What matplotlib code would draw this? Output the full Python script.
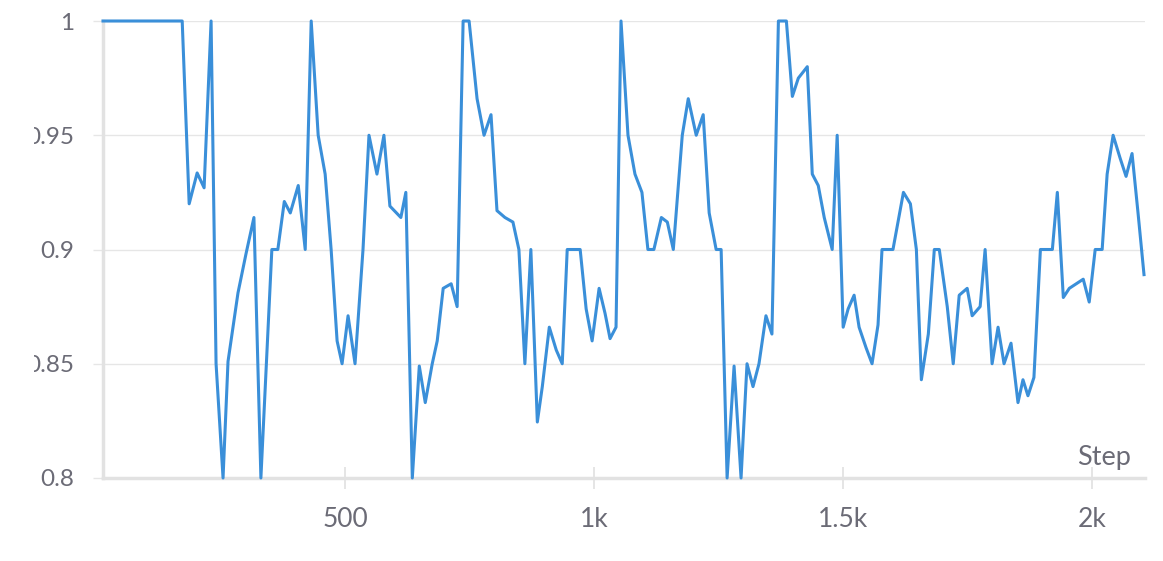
import matplotlib.pyplot as plt
from matplotlib.transforms import Bbox

steps = [14, 173, 187, 203, 217, 231, 241, 255, 265, 285, 301, 317, 331, 353, 365,
         378, 390, 406, 420, 432, 446, 460, 472, 484, 494, 506, 520, 536, 548, 564,
         578, 590, 612, 622, 635, 649, 661, 675, 685, 697, 713, 725, 737, 749, 765,
         779, 793, 805, 821, 837, 849, 861, 873, 886, 896, 910, 924, 936, 946, 958,
         972, 984, 996, 1010, 1022, 1032, 1044, 1054, 1068, 1082, 1096, 1108, 1120,
         1135, 1147, 1159, 1177, 1189, 1205, 1219, 1231, 1245, 1255, 1267, 1281,
         1295, 1307, 1319, 1331, 1345, 1357, 1370, 1386, 1398, 1410, 1428, 1438,
         1450, 1462, 1478, 1488, 1500, 1510, 1522, 1532, 1546, 1558, 1570, 1578,
         1590, 1600, 1621, 1635, 1647, 1657, 1671, 1683, 1693, 1709, 1721, 1733,
         1749, 1759, 1775, 1785, 1799, 1811, 1823, 1837, 1851, 1861, 1871, 1883,
         1896, 1908, 1920, 1930, 1942, 1954, 1968, 1982, 1994, 2006, 2020, 2030,
         2042, 2056, 2068, 2080, 2092, 2104]
acc = [1.0, 1.0, 0.920, 0.9335, 0.927, 1.0, 0.850, 0.8, 0.851, 0.881, 0.898, 0.914,
       0.8, 0.9, 0.9, 0.921, 0.916, 0.928, 0.9, 1.0, 0.95, 0.933, 0.9, 0.860, 0.850,
       0.871, 0.85, 0.9, 0.95, 0.933, 0.95, 0.919, 0.914, 0.925, 0.8, 0.849, 0.833,
       0.85, 0.86, 0.883, 0.885, 0.875, 1.0, 1.0, 0.966, 0.95, 0.959, 0.917, 0.914,
       0.912, 0.9, 0.85, 0.9, 0.8245, 0.84, 0.866, 0.856, 0.85, 0.9, 0.9, 0.9,
       0.874, 0.86, 0.883, 0.872, 0.861, 0.866, 1.0, 0.95, 0.933, 0.925, 0.9, 0.9,
       0.914, 0.912, 0.9, 0.95, 0.966, 0.95, 0.959, 0.916, 0.9, 0.9, 0.8, 0.849,
       0.8, 0.85, 0.84, 0.85, 0.871, 0.863, 1.0, 1.0, 0.967, 0.975, 0.980, 0.933,
       0.928, 0.914, 0.9, 0.95, 0.866, 0.874, 0.880, 0.866, 0.857, 0.85, 0.867,
       0.9, 0.9, 0.9, 0.925, 0.92, 0.9, 0.843, 0.863, 0.9, 0.9, 0.875, 0.85, 0.880,
       0.883, 0.871, 0.875, 0.9, 0.85, 0.866, 0.85, 0.859, 0.833, 0.843, 0.836,
       0.844, 0.9, 0.9, 0.9, 0.925, 0.879, 0.883, 0.885, 0.887, 0.877, 0.9, 0.9,
       0.933, 0.95, 0.940, 0.932, 0.942, 0.916, 0.889]

yticks = [0.8, 0.85, 0.9, 0.95, 1.0]
ylabels = ["0.8", "0.85", "0.9", "0.95", "1"]
xticks = [500, 1000, 1500, 2000]
xlabels = ["500", "1k", "1.5k", "2k"]

plt.rcParams['font.family'] = ['Lato', 'DejaVu Sans']
txt = '#6b6b76'
grid = '#e6e6e6'

fig = plt.figure(figsize=(11.63, 5.61), dpi=100)
ax = fig.add_axes([103/1163, 1 - 478/561, (1145 - 103)/1163, (478 - 21)/561])

ax.plot(steps, acc, color='#3a8fd9', lw=2.2, clip_on=False, zorder=3)

ax.set_xlim(14, 2106)
ax.set_ylim(0.8, 1.0)
ax.set_yticks(yticks)
ax.set_yticklabels(ylabels)
ax.set_xticks(xticks)
ax.set_xticklabels(xlabels)

ax.grid(axis='y', color=grid, lw=1)
ax.tick_params(axis='y', length=7.5, width=1, color=grid, pad=13,
               labelsize=17.5, labelcolor=txt)
ax.tick_params(axis='x', direction='inout', length=16, width=1.2, color='#e0e0e0',
               pad=13, labelsize=19, labelcolor=txt)

for s in ['top', 'right']:
    ax.spines[s].set_visible(False)
for s in ['left', 'bottom']:
    ax.spines[s].set_color('#e2e2e2')
    ax.spines[s].set_linewidth(2.5)

ax.text(0.9866, 0.028, "Step", transform=ax.transAxes, ha='right', va='baseline',
        fontsize=19.5, color=txt)

# y labels are cut off at the left like in the original panel
fig.canvas.draw()
clip = Bbox.from_extents(34, 0, 200, 561)
for lbl in ax.get_yticklabels():
    lbl.set_clip_box(clip)
    lbl.set_clip_on(True)

fig.savefig('out.png', dpi=100)
